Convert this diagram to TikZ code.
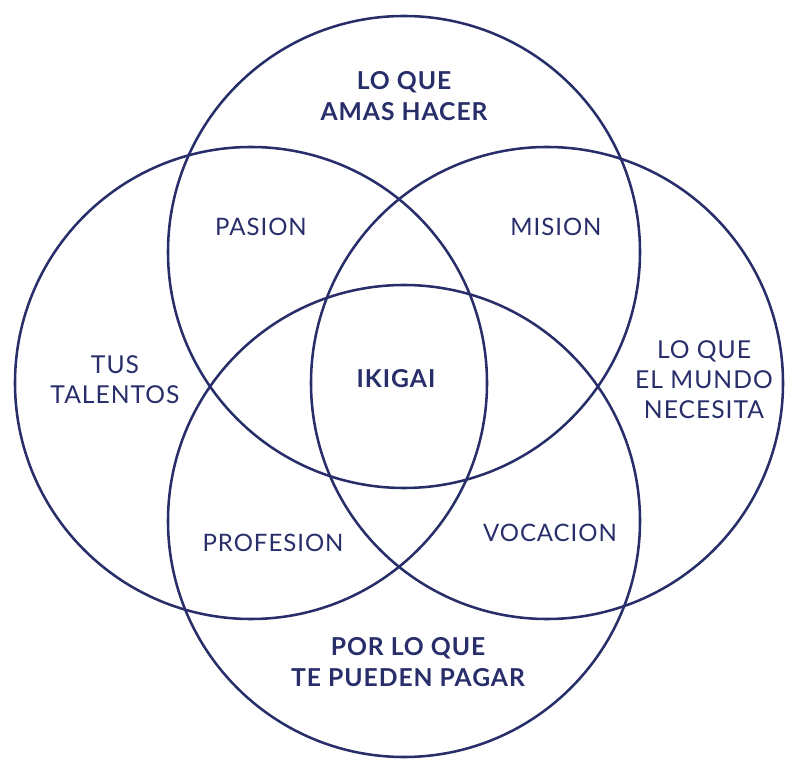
\documentclass[tikz,border=0pt]{standalone}
\usepackage{fontspec}
\setmainfont{Lato}[LetterSpace=4]
\usetikzlibrary{positioning}
\definecolor{navy}{RGB}{40,46,106}
\tikzset{
  ring/.style={circle,draw=navy,line width=1.9pt,minimum size=354pt,inner sep=0pt},
  big/.style={align=center,text=navy,font=\fontsize{18.5}{23}\selectfont\bfseries},
  mid/.style={align=center,text=navy,font=\fontsize{18.5}{22.5}\selectfont},
  sml/.style={align=center,text=navy,font=\fontsize{18}{21}\selectfont},
}

\begin{document}
\begin{tikzpicture}[x=0.75pt,y=-0.75pt]
  \useasboundingbox (0,0) rectangle (800,773);
  % the four circles
  \node[ring] (ama) at (404,252) {};
  \node[ring] (tal) at (251,383) {};
  \node[ring] (mun) at (547,383) {};
  \node[ring] (pag) at (404,521) {};
  % outer labels
  \node[big] (lama) at (404,96) {LO QUE\\AMAS HACER};
  \node[mid] (ltal) at (115,380) {TUS\\TALENTOS};
  \node[mid] (lmun) at (704,380) {LO QUE\\EL MUNDO\\NECESITA};
  \node[big] (lpag) at (408,662) {POR LO QUE\\TE PUEDEN PAGAR};
  % overlaps
  \node[sml] (pas) at (261,227) {PASION};
  \node[sml] (mis) at (556,227) {MISION};
  \node[sml] (pro) at (273,543) {PROFESION};
  \node[sml] (voc) at (550,533) {VOCACION};
  \node[big] (iki) at (396,379) {IKIGAI};
\end{tikzpicture}
\end{document}
